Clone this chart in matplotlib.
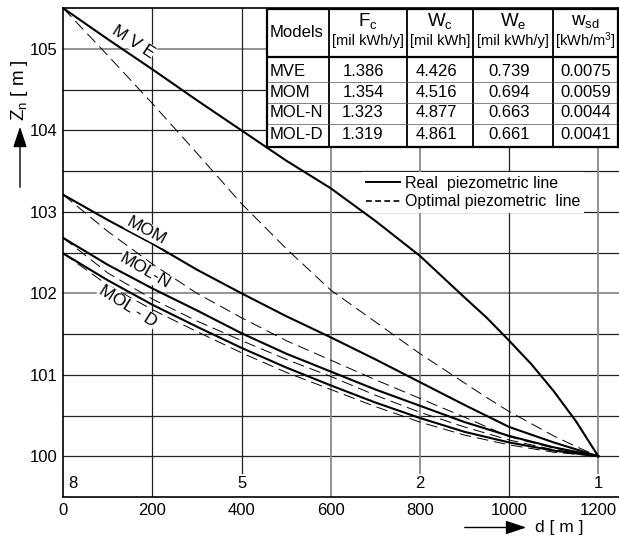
import matplotlib
matplotlib.use('Agg')
import matplotlib.pyplot as plt
from matplotlib.lines import Line2D

plt.rcParams['font.family'] = ['Liberation Sans', 'DejaVu Sans']
plt.rcParams['mathtext.fontset'] = 'custom'
plt.rcParams['mathtext.rm'] = 'Liberation Sans'
plt.rcParams['mathtext.it'] = 'Liberation Sans:italic'

# distance along the pipe [m]
d = [0, 100, 200, 300, 400, 500, 600, 700, 800, 900, 1000, 1100, 1200]
d_mve = [0, 100, 200, 300, 400, 500, 600, 700, 800, 900, 950, 1000, 1050, 1100, 1150, 1200]

# piezometric heads Zn [m], real (solid) and optimal (dashed)
mve_real = [105.5, 105.12, 104.75, 104.37, 104.0, 103.63, 103.29, 102.89, 102.46, 101.95, 101.7, 101.42, 101.13, 100.8, 100.43, 100.0]
mve_opt = [105.5, 104.92, 104.33, 103.72, 103.1, 102.55, 102.04, 101.65, 101.26, 100.9, 100.72, 100.55, 100.4, 100.25, 100.12, 100.0]
mom_real = [103.21, 102.9, 102.61, 102.29, 102.0, 101.72, 101.46, 101.19, 100.91, 100.63, 100.36, 100.17, 100.0]
mom_opt = [103.21, 102.76, 102.36, 102.0, 101.7, 101.42, 101.18, 100.94, 100.71, 100.48, 100.24, 100.1, 100.0]
moln_real = [102.68, 102.35, 102.06, 101.79, 101.51, 101.26, 101.04, 100.82, 100.62, 100.42, 100.25, 100.11, 100.0]
moln_opt = [102.68, 102.25, 101.93, 101.66, 101.42, 101.19, 100.98, 100.75, 100.54, 100.36, 100.2, 100.08, 100.0]
mold_real = [102.49, 102.16, 101.86, 101.59, 101.33, 101.09, 100.87, 100.66, 100.47, 100.3, 100.17, 100.07, 100.0]
mold_opt = [102.49, 102.1, 101.8, 101.53, 101.27, 101.03, 100.82, 100.61, 100.42, 100.26, 100.14, 100.05, 100.0]

# node numbers written under the grid
node_x = [12, 400, 800, 1200]
node_lbl = ['8', '5', '2', '1']

# table
models = ['MVE', 'MOM', 'MOL-N', 'MOL-D']
fc = ['1.386', '1.354', '1.323', '1.319']
wc = ['4.426', '4.516', '4.877', '4.861']
we = ['0.739', '0.694', '0.663', '0.661']
wsd = ['0.0075', '0.0059', '0.0044', '0.0041']

fig = plt.figure(figsize=(6.19, 5.38), dpi=100)
W, H = 619, 538
ax = fig.add_axes([63.3 / W, 41 / H, (W - 63.3) / W, (497 - 8.3) / H])
ax.set_xlim(0, 1246.5)
ax.set_ylim(99.5, 105.5)

# grid
gray = '#8a8a8a'
for yv in [100, 100.5, 101, 101.5, 102, 102.5, 103, 103.5, 104, 104.5, 105]:
    c = gray if yv in (102, 105) else '#222222'
    lw = 1.3 if yv in (102, 105) else 0.9
    ax.axhline(yv, color=c, lw=lw, zorder=1)
for xv in [200, 400, 600, 800, 1000, 1200]:
    c = gray if xv in (600, 800, 1200) else '#222222'
    lw = 1.3 if xv in (600, 800, 1200) else 0.9
    y0 = 99.8 if xv in (400, 800, 1200) else 99.5
    ax.plot([xv, xv], [y0, 105.5], color=c, lw=lw, zorder=1)

dash = (0, (12, 6))
ax.plot(d_mve, mve_real, color='k', lw=1.5, zorder=3)
ax.plot(d_mve, mve_opt, color='k', lw=0.7, ls=dash, zorder=3)
for real, opt in [(mom_real, mom_opt), (moln_real, moln_opt), (mold_real, mold_opt)]:
    ax.plot(d, real, color='k', lw=1.5, zorder=3)
    ax.plot(d, opt, color='k', lw=0.7, ls=dash, zorder=3)

# curve labels
box = dict(facecolor='white', edgecolor='none', pad=0.5)
ax.text(156, 105.09, 'M V E', rotation=-33, fontsize=12.5, ha='center', va='center', bbox=box, zorder=4)
ax.text(187, 102.77, 'MOM', rotation=-28, fontsize=12.5, ha='center', va='center', bbox=box, zorder=4)
ax.text(183, 102.27, 'MOL-N', rotation=-30, fontsize=12.5, ha='center', va='center', bbox=box, zorder=4)
ax.text(144, 101.84, 'MOL - D', rotation=-32, fontsize=12.5, ha='center', va='center', bbox=box, zorder=4)

for x, s in zip(node_x, node_lbl):
    ax.text(x, 99.67, s, fontsize=12, ha='left' if x < 100 else 'center', va='center')

ax.set_xticks([0, 200, 400, 600, 800, 1000, 1200])
ax.set_yticks([100, 101, 102, 103, 104, 105])
ax.tick_params(length=0, labelsize=12, pad=4)
for s in ['left', 'bottom', 'top']:
    ax.spines[s].set_linewidth(1.2)
ax.spines['right'].set_visible(False)

# legend
h = [Line2D([], [], color='k', lw=1.4), Line2D([], [], color='k', lw=1.2, ls=(0, (3.5, 2)))]
leg = ax.legend(h, ['Real  piezometric line', 'Optimal piezometric  line'], loc='upper left',
                bbox_to_anchor=((362 - 63.3) / (W - 63.3), (497 - 172) / (497 - 8.3)),
                frameon=True, fancybox=False, edgecolor='none', facecolor='white', framealpha=1,
                borderpad=0.25, handlelength=2.1, handletextpad=0.35, labelspacing=0.2,
                borderaxespad=0, fontsize=11.5)
leg.set_zorder(2)

# axis labels with arrows
fig.text(19 / W, 1 - 90 / H, r'Z$_\mathregular{n}$ [ m ]', rotation=90, ha='center', va='center', fontsize=13.5)
fig.text(535 / W, 1 - 527.5 / H, 'd [ m ]', ha='left', va='center', fontsize=12.5)
ax.annotate('', xy=(20 / W, 1 - 124 / H), xytext=(20 / W, 1 - 190 / H), xycoords='figure fraction',
            arrowprops=dict(arrowstyle='-|>,head_length=0.9,head_width=0.3', color='k', lw=1, mutation_scale=14))
ax.annotate('', xy=(529 / W, 1 - 527.5 / H), xytext=(462 / W, 1 - 527.5 / H), xycoords='figure fraction',
            arrowprops=dict(arrowstyle='-|>,head_length=0.9,head_width=0.3', color='k', lw=1, mutation_scale=14))

# table drawn as an overlay in pixel coordinates
tx0, tx1, ty0, ty1 = 267, 618, 9.3, 146.7
tab = fig.add_axes([tx0 / W, 1 - ty1 / H, (tx1 - tx0) / W, (ty1 - ty0) / H], zorder=5)
tab.set_xlim(tx0, tx1)
tab.set_ylim(ty1, ty0)
tab.set_facecolor('white')
tab.set_xticks([])
tab.set_yticks([])
for s in tab.spines.values():
    s.set_linewidth(1.6)
cols = [329, 407, 473, 553]
for cx in cols:
    tab.plot([cx, cx], [ty0, ty1], color='k', lw=1.3)
tab.plot([tx0, tx1], [57, 57], color='k', lw=1.6)
for ry in [81.7, 102.5, 123.5]:
    tab.plot([tx0, tx1], [ry, ry], color='#555555', lw=0.5)

tab.text(270, 32, 'Models', fontsize=12, ha='left', va='center')
hdr_x = [368, 440, 513, 585.5]
hdr_top = [r'F$_\mathregular{c}$', r'W$_\mathregular{c}$', r'W$_\mathregular{e}$', r'w$_\mathregular{sd}$']
hdr_unit = ['[mil kWh/y]', '[mil kWh]', '[mil kWh/y]', r'[kWh/m$^\mathregular{3}$]']
for x, t, u in zip(hdr_x, hdr_top, hdr_unit):
    tab.text(x, 21, t, fontsize=13.5, ha='center', va='center')
    tab.text(x, 41, u, fontsize=10.5, ha='center', va='center')

row_y = [71.7, 92, 112.5, 134]
num_x = [363, 436, 509, 586]
for i, y in enumerate(row_y):
    tab.text(270, y, models[i], fontsize=12, ha='left', va='center')
    for x, col in zip(num_x, [fc, wc, we, wsd]):
        tab.text(x, y, col[i], fontsize=12, ha='center', va='center')

fig.savefig('out.png', dpi=100)
